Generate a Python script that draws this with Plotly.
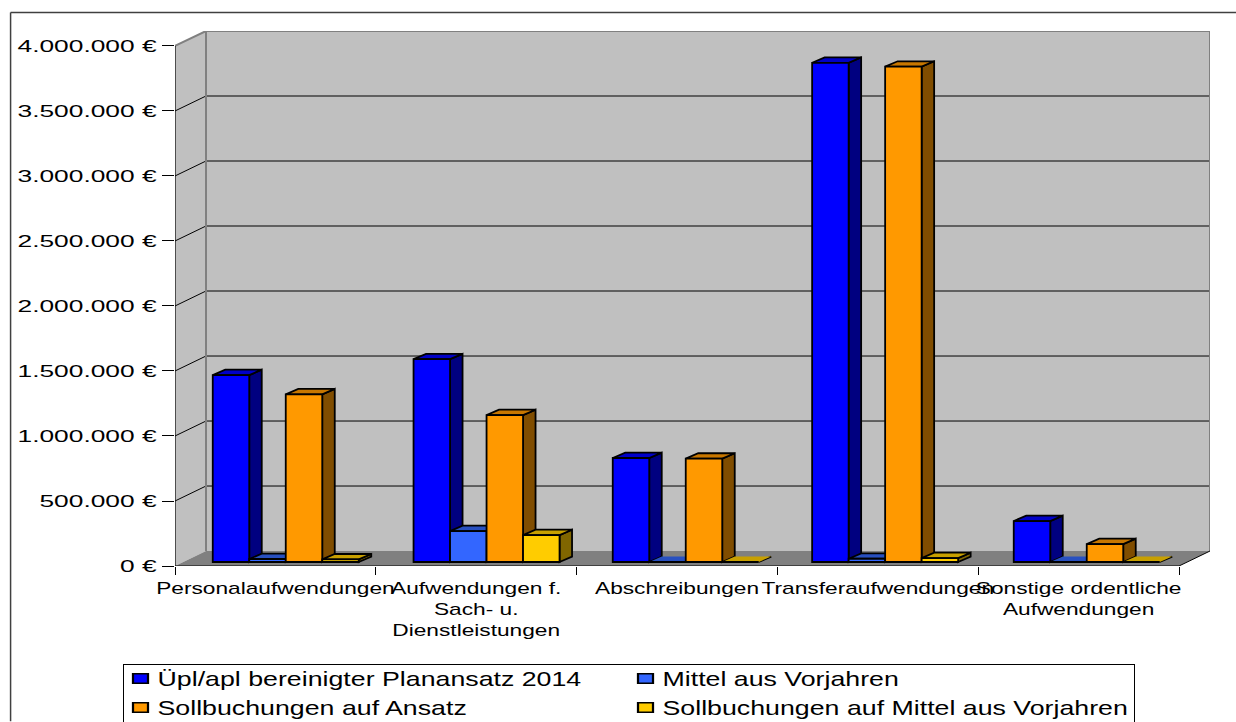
import plotly.graph_objects as go

# ---- data (EUR) ----
categories = ["Personalaufwendungen", "Aufwendungen f.<br>Sach- u.<br>Dienstleistungen",
              "Abschreibungen", "Transferaufwendungen", "Sonstige ordentliche<br>Aufwendungen"]
plan_2014 = [1438000, 1560000, 800000, 3840000, 315000]
vorjahre = [23000, 238000, 0, 25000, 0]
soll_ansatz = [1290000, 1130000, 795000, 3810000, 138000]
soll_vorjahre = [20000, 207000, 0, 30000, 0]
y_ticks = [0, 500000, 1000000, 1500000, 2000000, 2500000, 3000000, 3500000, 4000000]
y_labels = ["0 €", "500.000 €", "1.000.000 €", "1.500.000 €", "2.000.000 €",
            "2.500.000 €", "3.000.000 €", "3.500.000 €", "4.000.000 €"]
series_names = ["Üpl/apl bereinigter Planansatz 2014", "Mittel aus Vorjahren",
                "Sollbuchungen auf Ansatz", "Sollbuchungen auf Mittel aus Vorjahren"]

# ---- styling ----
front_col = ["#0000FF", "#3366FF", "#FF9900", "#FFCC00"]
side_col = ["#000080", "#1A3380", "#804D00", "#806600"]
top_col = ["#0000C8", "#2850C0", "#C87700", "#C8A000"]
WALL, FLOOR = "#C0C0C0", "#808080"

n_cat = len(categories)
PX_X = 200.8           # pixels per category
PX_Y = 130.25 / 1e6    # pixels per euro
DX, DY = 31 / PX_X, 15 / PX_Y                # depth of the chart box
BDX, BDY = 12.5 / PX_X, 5.4 / PX_Y           # depth of a bar
BASE_Y = 4 / PX_Y                            # bars stand slightly inside the floor
BAR_W = 36.5 / PX_X
GROUP_START = [0.188, 0.188, 0.180, 0.173, 0.177]
Y_MAX = y_ticks[-1]
all_series = [plan_2014, vorjahre, soll_ansatz, soll_vorjahre]
LEFT, TOP, BOTTOM_Y = 174.5, 30.5, 566.5
PLOT_W, PLOT_H = 1035.5, 536


def poly(points, fill, line=None, width=1.0):
    path = "M" + " L".join(f"{x},{y}" for x, y in points) + " Z"
    return dict(type="path", xref="x", yref="y", path=path, fillcolor=fill, layer="below",
                line=dict(color=line or fill, width=width if line else 0))


def seg(points, color, width=1.0):
    path = "M" + " L".join(f"{x},{y}" for x, y in points)
    return dict(type="path", xref="x", yref="y", path=path, layer="below",
                line=dict(color=color, width=width))


shapes = []
# outer chart frame
shapes.append(dict(type="line", xref="paper", yref="paper", layer="below",
                   x0=(10 - LEFT) / PLOT_W, x1=(1236 - LEFT) / PLOT_W,
                   y0=(BOTTOM_Y - 12) / PLOT_H, y1=(BOTTOM_Y - 12) / PLOT_H,
                   line=dict(color="#404040", width=1.5)))
shapes.append(dict(type="line", xref="paper", yref="paper", layer="below",
                   x0=(10 - LEFT) / PLOT_W, x1=(10 - LEFT) / PLOT_W,
                   y0=(BOTTOM_Y - 12) / PLOT_H, y1=(BOTTOM_Y - 722) / PLOT_H,
                   line=dict(color="#404040", width=1.5)))
# walls and floor
shapes.append(poly([(DX, DY), (DX, Y_MAX + DY), (n_cat + DX, Y_MAX + DY), (n_cat + DX, DY)], WALL))
shapes.append(poly([(0, 0), (0, Y_MAX), (DX, Y_MAX + DY), (DX, DY)], WALL))
shapes.append(poly([(0, 0), (n_cat, 0), (n_cat + DX, DY), (DX, DY)], FLOOR))
# grid lines
for v in y_ticks[1:-1]:
    shapes.append(seg([(0, v), (DX, v + DY), (n_cat + DX, v + DY)], "#000000", 1))
# wall edges
shapes.append(seg([(0, Y_MAX), (DX, Y_MAX + DY), (n_cat + DX, Y_MAX + DY), (n_cat + DX, DY)], FLOOR, 2))
shapes.append(seg([(DX, Y_MAX + DY), (DX, DY)], FLOOR, 2))
shapes.append(seg([(n_cat, 0), (n_cat + DX, DY)], "#000000", 1))
shapes.append(seg([(0, Y_MAX), (0, 0), (n_cat, 0)], "#000000", 1.2))

# side and top faces of the bars, back to front
for i in range(n_cat):
    for k, values in enumerate(all_series):
        x0 = i + GROUP_START[i] + k * BAR_W
        x1 = x0 + BAR_W
        b = BASE_Y
        t = BASE_Y + values[i]
        outline = "#000000" if values[i] > 0 else None
        shapes.append(poly([(x1, b), (x1 + BDX, b + BDY), (x1 + BDX, t + BDY), (x1, t)],
                           side_col[k], "#000000", 1.8))
        shapes.append(poly([(x0, t), (x0 + BDX, t + BDY), (x1 + BDX, t + BDY), (x1, t)],
                           top_col[k], outline, 1.8))

fig = go.Figure()
for k, values in enumerate(all_series):
    fig.add_trace(go.Bar(
        name=series_names[k],
        x=[i + GROUP_START[i] + (k + 0.5) * BAR_W for i in range(n_cat)],
        y=values,
        base=[BASE_Y] * n_cat,
        width=BAR_W,
        marker=dict(color=front_col[k], line=dict(color="#000000", width=1.8)),
    ))

fig.update_layout(
    width=1236, height=722, autosize=False,
    margin=dict(l=LEFT, r=1236 - LEFT - PLOT_W, t=TOP, b=722 - TOP - PLOT_H, pad=0),
    paper_bgcolor="#FFFFFF", plot_bgcolor="rgba(0,0,0,0)",
    barmode="overlay", shapes=shapes, showlegend=True,
    font=dict(family="Liberation Sans", color="#000000", size=16),
    legend=dict(
        orientation="h", xref="container", yref="container",
        x=122.5 / 1236, y=1 - 663.5 / 722, xanchor="left", yanchor="top",
        entrywidth=460, entrywidthmode="pixels",
        bgcolor="#FFFFFF", bordercolor="#000000", borderwidth=1,
        font=dict(size=20, family="Liberation Sans", color="#000000"),
        traceorder="normal",
    ),
    xaxis=dict(
        range=[0, n_cat + DX], showgrid=False, zeroline=False, showline=False,
        tickmode="array", tickvals=[i + 0.5 for i in range(n_cat)], ticktext=categories,
        ticks="", ticklabelstandoff=11, tickfont=dict(size=16),
        minor=dict(tickmode="array", tickvals=list(range(n_cat + 1)), ticks="outside",
                   ticklen=8, tickcolor="#000000", tickwidth=1, showgrid=False),
    ),
    yaxis=dict(
        range=[0, Y_MAX + DY], showgrid=False, zeroline=False, showline=False,
        tickmode="array", tickvals=y_ticks, ticktext=y_labels,
        ticks="outside", ticklen=12, tickcolor="#000000", tickwidth=1,
        ticklabelstandoff=2, tickfont=dict(size=17),
    ),
)

post = """
document.body.style.margin='0';
document.documentElement.style.overflow='hidden';
var gd=document.getElementById('{plot_id}');
gd.querySelectorAll('.legendtext').forEach(function(t){
  t.setAttribute('x',parseFloat(t.getAttribute('x'))-6);});
function st(sel,s){gd.querySelectorAll(sel).forEach(function(t){
  var x=parseFloat(t.getAttribute('x'))||0;var tr=t.getAttribute('transform')||'';
  t.setAttribute('transform',tr+' translate('+x+',0) scale('+s+',1) translate('+(-x)+',0)');});}
st('.xtick text',1.42);st('.ytick text',1.55);st('.legendtext',1.338);
gd.querySelectorAll('.legend .traces').forEach(function(g){
  var m=/translate\\(([-\\d.]+),\\s*([-\\d.]+)\\)/.exec(g.getAttribute('transform'));
  if(m){g.setAttribute('transform','translate('+m[1]+','+(parseFloat(m[2])-5.5)+')');}});
gd.querySelectorAll('.legend .legendpoints path').forEach(function(p){
  p.setAttribute('transform','translate(17,0) scale(1.25,0.8)');});
"""
fig.write_html("out.html", post_script=post, config=dict(displayModeBar=False))
